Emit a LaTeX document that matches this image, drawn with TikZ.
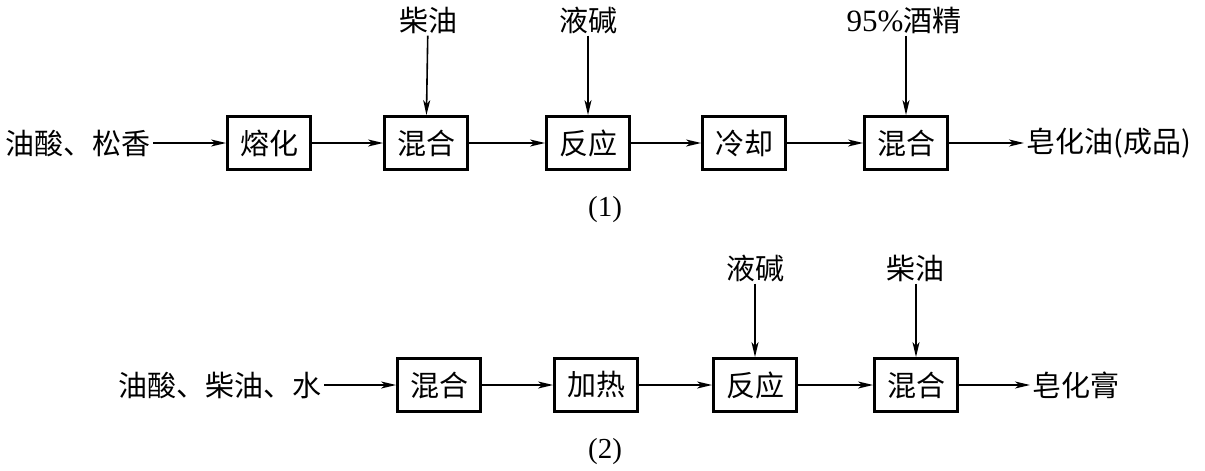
\documentclass[tikz,border=0pt]{standalone}
\usepackage{fontspec}
\setmainfont{Liberation Serif}
\newfontfamily\cjk{Noto Sans CJK SC}
\usetikzlibrary{arrows.meta,positioning}

\begin{document}
\begin{tikzpicture}[x=1pt, y=-1pt, >={Stealth[length=15pt,width=7pt,inset=4pt]},
    box/.style={draw, line width=2.8pt, minimum width=83pt, minimum height=53pt, inner sep=2pt},
    lbl/.style={inner sep=2pt},
    flow/.style={->, line width=1.6pt},
    every node/.style={font=\fontsize{29}{34}\selectfont\cjk}]
    \useasboundingbox (0,0) rectangle (1205,471);

    % Process (1)
    \node[lbl, anchor=east] (rawa) at (153,143) {油酸、松香};
    \node[box] (melt) at (269,143) {熔化};
    \node[box] (mixa) at (426,143) {混合};
    \node[box] (reacta) at (588,143) {反应};
    \node[box] (cool) at (744,143) {冷却};
    \node[box] (mixb) at (906,143) {混合};
    \node[lbl, anchor=west] (proda) at (1024,143) {皂化油(成品)};
    \node[lbl] (dsla) at (428,20) {柴油};
    \node[lbl] (lyea) at (588,20) {液碱};
    \node[lbl] (alc) at (904,20) {{\rmfamily\fontsize{31}{34}\selectfont 95\%}酒精};
    \node[lbl] (capa) at (605,210) {\rmfamily (1)};

    \draw[flow] (rawa) -- (melt);
    \draw[flow] (melt) -- (mixa);
    \draw[flow] (mixa) -- (reacta);
    \draw[flow] (reacta) -- (cool);
    \draw[flow] (cool) -- (mixb);
    \draw[flow] (mixb) -- (proda);
    \draw[flow] (dsla) -- (mixa);
    \draw[flow] (lyea) -- (reacta);
    \draw[flow] (alc.south -| mixb) -- (mixb);

    % Process (2)
    \node[lbl, anchor=east] (rawb) at (324,385) {油酸、柴油、水};
    \node[box] (mixc) at (439,385) {混合};
    \node[box] (heat) at (596,385) {加热};
    \node[box] (reactb) at (755,385) {反应};
    \node[box] (mixd) at (916,385) {混合};
    \node[lbl, anchor=west] (prodb) at (1030,385) {皂化膏};
    \node[lbl] (lyeb) at (755,268) {液碱};
    \node[lbl] (dslb) at (915,268) {柴油};
    \node[lbl] (capb) at (605,452) {\rmfamily (2)};

    \draw[flow] (rawb) -- (mixc);
    \draw[flow] (mixc) -- (heat);
    \draw[flow] (heat) -- (reactb);
    \draw[flow] (reactb) -- (mixd);
    \draw[flow] (mixd) -- (prodb);
    \draw[flow] (lyeb) -- (reactb);
    \draw[flow] (dslb.south -| mixd) -- (mixd);
\end{tikzpicture}
\end{document}
